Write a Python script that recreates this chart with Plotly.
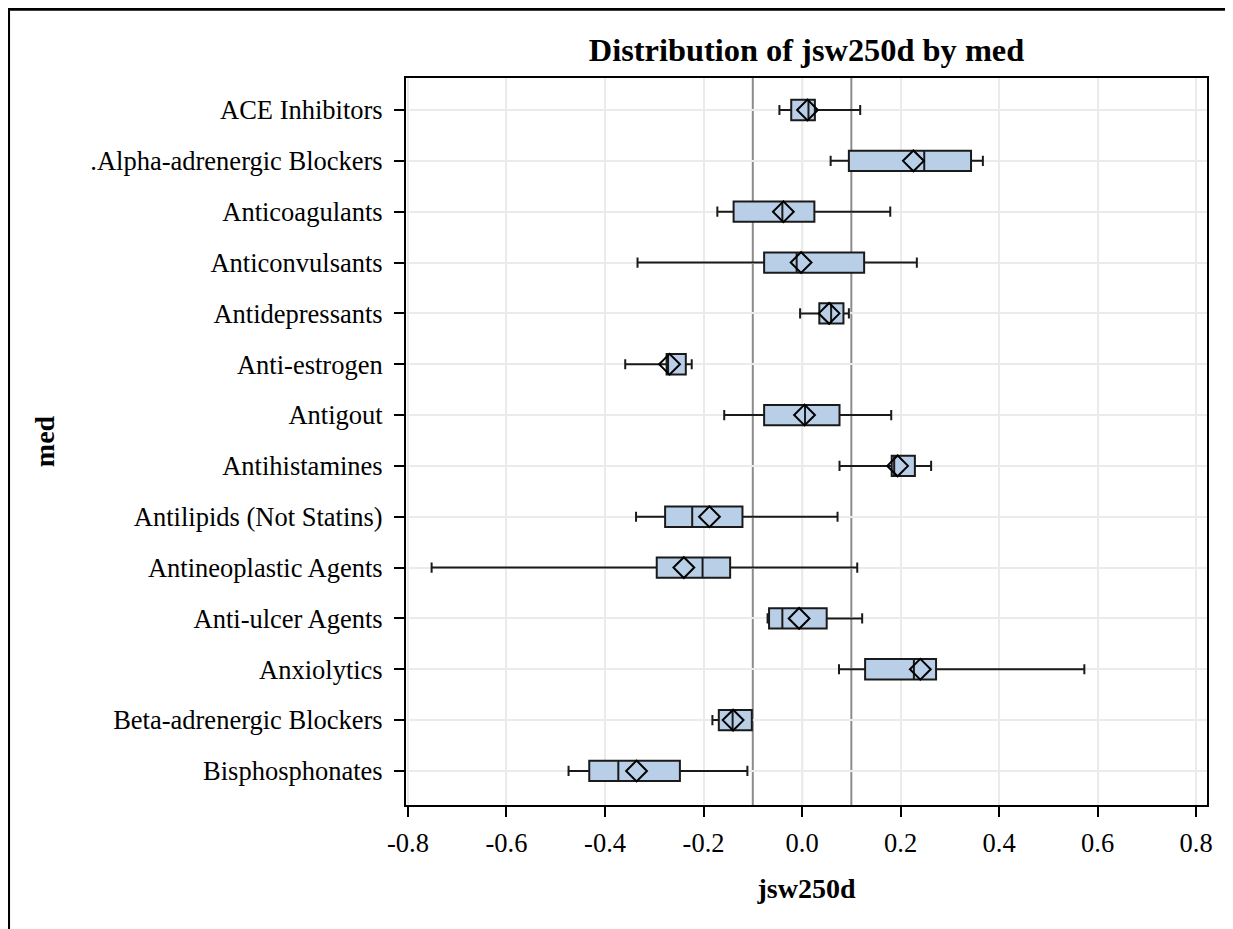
import plotly.graph_objects as go

categories = ["ACE Inhibitors", ".Alpha-adrenergic Blockers", "Anticoagulants", "Anticonvulsants",
              "Antidepressants", "Anti-estrogen", "Antigout", "Antihistamines",
              "Antilipids (Not Statins)", "Antineoplastic Agents", "Anti-ulcer Agents",
              "Anxiolytics", "Beta-adrenergic Blockers", "Bisphosphonates"]
lower_whisker = [-0.046, 0.058, -0.172, -0.334, -0.004, -0.359, -0.158, 0.076, -0.337, -0.752, -0.070, 0.075, -0.182, -0.474]
q1_values = [-0.022, 0.095, -0.139, -0.077, 0.035, -0.275, -0.077, 0.182, -0.278, -0.295, -0.067, 0.128, -0.169, -0.432]
median_values = [0.013, 0.248, -0.040, -0.011, 0.059, -0.272, 0.006, 0.187, -0.223, -0.202, -0.040, 0.227, -0.141, -0.373]
q3_values = [0.026, 0.343, 0.025, 0.126, 0.084, -0.236, 0.076, 0.229, -0.121, -0.146, 0.050, 0.272, -0.102, -0.248]
upper_whisker = [0.118, 0.367, 0.179, 0.233, 0.095, -0.224, 0.181, 0.262, 0.072, 0.112, 0.122, 0.573, -0.102, -0.111]
mean_values = [0.011, 0.226, -0.038, -0.002, 0.055, -0.269, 0.005, 0.194, -0.188, -0.240, -0.006, 0.240, -0.140, -0.336]
ref_lines = [-0.1, 0.0, 0.1]
x_ticks = [-0.8, -0.6, -0.4, -0.2, 0.0, 0.2, 0.4, 0.6, 0.8]
x_tick_labels = ["-0.8", "-0.6", "-0.4", "-0.2", "0.0", "0.2", "0.4", "0.6", "0.8"]

FONT = "Liberation Serif, Times New Roman, serif"
W, H = 1233, 929
# plot-area edges in figure pixels (page adds an 8px body margin)
L, R, T, B = 398, 1199, 70, 797

fig = go.Figure()

for v in ref_lines:
    fig.add_vline(x=v, line=dict(color="#8c8c8c", width=2), layer="below")

fig.add_trace(go.Box(
    y=categories, q1=q1_values, median=median_values, q3=q3_values,
    lowerfence=lower_whisker, upperfence=upper_whisker,
    orientation="h", width=0.4, whiskerwidth=0.5,
    fillcolor="#b9cfe8", line=dict(color="#1a1a1a", width=2),
    showlegend=False, hoverinfo="skip",
))

fig.add_trace(go.Scatter(
    x=mean_values, y=categories, mode="markers",
    marker=dict(symbol="diamond-open", size=16, color="black", line=dict(width=2, color="black")),
    showlegend=False, hoverinfo="skip",
))

def px_x(p):
    return (p - L) / (R - L)

def px_y(p):
    return (B - p) / (B - T)

# outer frame
fig.add_shape(type="line", xref="paper", yref="paper", x0=px_x(0), x1=px_x(1222.5), y0=px_y(1.2), y1=px_y(1.2), line=dict(color="black", width=3))
fig.add_shape(type="line", xref="paper", yref="paper", x0=px_x(0.8), x1=px_x(0.8), y0=px_y(0), y1=px_y(940), line=dict(color="black", width=2.5))
fig.add_shape(type="line", xref="paper", yref="paper", x0=px_x(1222.5), x1=px_x(1222.5), y0=px_y(0), y1=px_y(940), line=dict(color="black", width=1))

fig.update_layout(
    width=W, height=H,
    margin=dict(l=L, r=W - R, t=T, b=H - B, autoexpand=False),
    paper_bgcolor="white", plot_bgcolor="white",
    font=dict(family=FONT, size=26.5, color="black"),
    title=dict(text="<b>Distribution of jsw250d by med</b>", x=0.5, xref="paper",
               y=1 - 42 / H, yref="container", yanchor="middle",
               font=dict(family=FONT, size=32.4, color="black")),
    xaxis=dict(range=[-0.804, 0.822], tickvals=x_ticks, ticktext=x_tick_labels,
               showgrid=True, gridcolor="#ebebeb", gridwidth=2, zeroline=False,
               showline=True, linecolor="black", linewidth=2, mirror=True,
               ticks="outside", ticklen=10, tickwidth=2, tickcolor="black",
               ticklabelstandoff=3,
               title=dict(text="<b>jsw250d</b>", standoff=22, font=dict(family=FONT, size=28))),
    yaxis=dict(type="category", categoryorder="array", categoryarray=categories,
               range=[13.67, -0.63],
               showgrid=True, gridcolor="#ebebeb", gridwidth=2, zeroline=False,
               showline=True, linecolor="black", linewidth=2, mirror=True,
               ticks="outside", ticklen=10, tickwidth=2, tickcolor="black",
               ticklabelstandoff=6,
               title=dict(text="<b>med</b>", standoff=28, font=dict(family=FONT, size=28))),
)

fig.write_html("out.html")
